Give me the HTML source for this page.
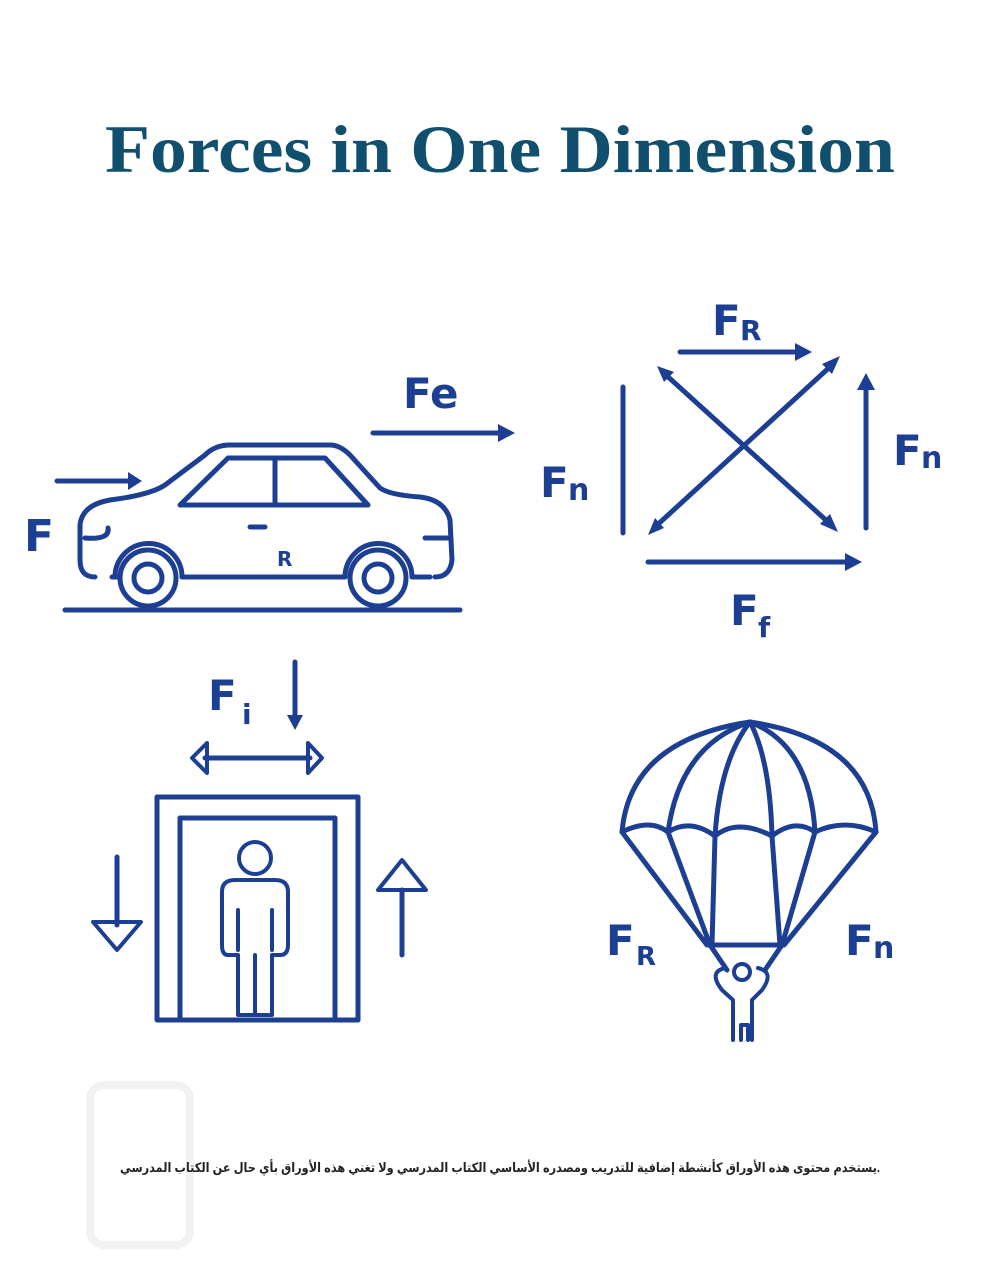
<!DOCTYPE html>
<html><head><meta charset="utf-8"><style>
body{margin:0;background:#fff;width:993px;height:1280px;overflow:hidden;position:relative}
svg{position:absolute;left:0;top:0}
</style></head><body>
<svg width="993" height="1280" viewBox="0 0 993 1280" xmlns="http://www.w3.org/2000/svg">
<text x="105" y="172" textLength="790" lengthAdjust="spacingAndGlyphs" font-family="Liberation Serif, serif" font-weight="bold" font-size="68" fill="#10506e">Forces in One Dimension</text>
<g fill="none" stroke="#1d3f93" stroke-width="5" stroke-linecap="round" stroke-linejoin="round">
<path d="M95,577 Q80,577 80,560 L80,525 Q82,505 110,500 Q150,495 165,485 L205,455 Q215,445 230,445 L330,445 Q340,445 350,455 L380,488 Q390,495 420,497 Q445,500 450,520 L452,560 Q450,577 435,577"/>
<path d="M112,577 L118,577 M182,577 L345,577 M412,577 L430,577"/>
<path d="M115,577 A33,33 0 0 1 182,577 M345,577 A33,33 0 0 1 412,577"/>
<circle cx="148" cy="578" r="28"/><circle cx="148" cy="578" r="14"/>
<circle cx="378" cy="578" r="28"/><circle cx="378" cy="578" r="14"/>
<path d="M180,505 L228,458 L325,458 L368,505 Z M275,458 L275,505"/>
<path d="M85,538 Q110,540 108,528 M425,538 L450,538 M250,527 L265,527"/>
<path d="M65,610 L460,610"/>
<path d="M57,481 L128,481 M373,433 L500,433"/>
<path d="M680,352 L798,352 M623,387 L623,533 M648,562 L848,562 M866,528 L866,388"/>
<path d="M666,375 L828,522 M832,365 L655,527"/>
<path d="M157,1020 L157,797 L358,797 L358,1020 Z M180,1020 L180,818 L335,818 L335,1020"/>
<path d="M295,662 L295,718 M205,758 L310,758 M117,857 L117,925 M402,955 L402,890"/>
<path d="M207,743 L192,758 L207,773 Z M308,743 L322,758 L308,773 Z" stroke-width="4"/>
<path d="M93,922 L117,950 L141,922 Z M378,890 L402,860 L426,890 Z" stroke-width="4"/>
<circle cx="255" cy="858" r="16" stroke-width="4"/>
<path d="M238,1015 L238,955 L228,955 Q222,955 222,945 L222,892 Q222,880 235,880 L275,880 Q288,880 288,892 L288,945 Q288,955 280,955 L272,955 L272,1015 Z M255,955 L255,1015 M238,910 L238,950 M272,910 L272,950" stroke-width="4"/>
<path d="M622,832 Q630,740 750,722 Q870,740 876,832"/>
<path d="M622,832 Q650,818 668,832 Q690,818 715,836 Q737,818 772,836 Q795,818 815,832 Q845,818 876,832"/>
<path d="M750,722 Q680,745 668,832 M750,722 Q720,760 715,836 M750,722 Q770,760 772,836 M750,722 Q810,745 815,832"/>
<path d="M622,832 L707,945 M668,832 L710,945 M715,836 L712,945 M772,836 L780,945 M815,832 L782,945 M876,832 L784,945 M707,945 L784,945"/>
<path d="M710,945 L727,970 M782,945 L765,970"/>
<circle cx="742" cy="972" r="8" stroke-width="4"/>
<path d="M725,968 Q708,972 722,990 L733,1000 L733,1040 M758,968 Q775,972 762,990 L752,1000 L752,1040 M741,1040 L741,1025 L748,1025 L748,1040" stroke-width="4"/>
</g>
<g fill="#1d3f93">
<path d="M128,472 L142,481 L128,490 Z M498,424 L515,433 L498,442 Z M795,343 L812,352 L795,361 Z M845,553 L862,562 L845,571 Z M857,390 L866,373 L875,390 Z"/>
<path d="M657,366 L674,372 L664,382 Z M840,356 L822,364 L832,374 Z M648,535 L655,518 L664,528 Z M838,532 L820,524 L830,514 Z"/>
<path d="M287,715 L295,730 L303,715 Z"/>
</g>
<g font-family="DejaVu Sans, Liberation Sans, sans-serif" font-weight="bold" fill="#1d3f93">
<text x="24" y="551" font-size="44">F</text>
<text x="403" y="408" font-size="42">Fe</text>
<text x="277" y="566" font-size="20">R</text>
<text x="712" y="335" font-size="42">F</text><text x="740" y="340" font-size="28">R</text>
<text x="540" y="497" font-size="42">F</text><text x="568" y="500" font-size="30">n</text>
<text x="893" y="465" font-size="42">F</text><text x="921" y="468" font-size="30">n</text>
<text x="730" y="625" font-size="42">F</text><text x="758" y="637" font-size="28">f</text>
<text x="208" y="710" font-size="42">F</text><text x="242" y="724" font-size="28">i</text>
<text x="606" y="955" font-size="42">F</text><text x="636" y="965" font-size="26">R</text>
<text x="845" y="955" font-size="42">F</text><text x="873" y="958" font-size="30">n</text>
</g>
<text x="120" y="1172" textLength="760" lengthAdjust="spacingAndGlyphs" font-family="Liberation Sans, DejaVu Sans, sans-serif" font-weight="bold" font-size="13" fill="#222">يستخدم محتوى هذه الأوراق كأنشطة إضافية للتدريب ومصدره الأساسي الكتاب المدرسي ولا تغني هذه الأوراق بأي حال عن الكتاب المدرسي.</text>
<g opacity="0.08" fill="none" stroke="#555" stroke-width="8">
<rect x="90" y="1085" width="100" height="160" rx="14"/>
</g>
</svg>
</body></html>
